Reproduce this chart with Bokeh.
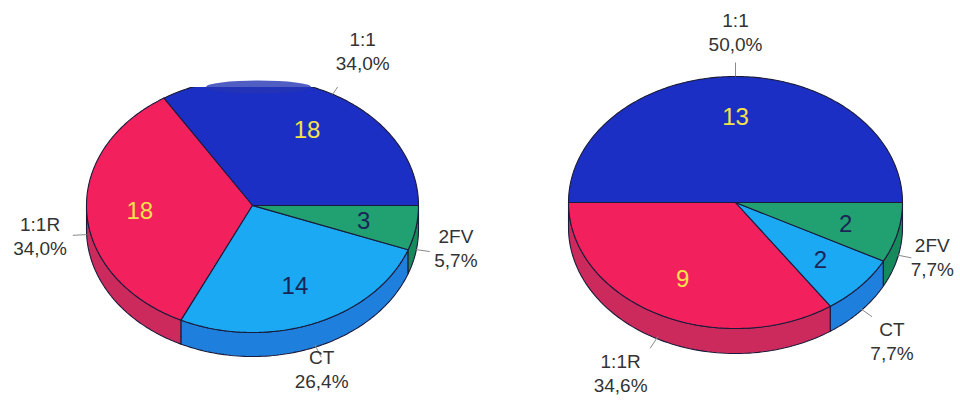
import numpy as np
from bokeh.plotting import figure
from bokeh.models import Range1d
from bokeh.embed import file_html
from bokeh.resources import INLINE
from bokeh.core.properties import value

# ---------------- data ----------------
categories = ["1:1", "1:1R", "CT", "2FV"]
left_counts = [18, 18, 14, 3]
right_counts = [13, 9, 2, 2]

# ---------------- style ----------------
top_colors = ["#1c2fc4", "#f2215d", "#1aa9f2", "#21a172"]
side_colors = ["#15239a", "#cc2a5c", "#1f7fdc", "#178a5c"]
num_colors = ["#f4e24c", "#f4e24c", "#1b2555", "#1b2555"]
FONT = value("Liberation Sans")
W, H = 960, 408

p = figure(width=W, height=H, x_range=Range1d(0, W), y_range=Range1d(0, H),
           output_backend="svg", toolbar_location=None, min_border=0)
p.axis.visible = False
p.grid.visible = False
p.outline_line_color = None
p.background_fill_color = "white"
p.border_fill_color = "white"


def Y(ypx):
    return H - ypx


# layout of each pie (pixel coords, y down) and label nudges
pies = [
    dict(counts=left_counts, cx=252, cy=205, rx=166, ry=127, depth=24,
         nudge=[(6, -9), (3, -3), (-12, -13), (-9, -10)]),
    dict(counts=right_counts, cx=735, cy=202, rx=167, ry=126, depth=25,
         nudge=[(0, -6), (-14, 1), (-6, 5), (-14, -9)]),
]

OUT = "#1a1a3a"

for pie in pies:
    counts = np.array(pie["counts"], dtype=float)
    total = counts.sum()
    fr = counts / total
    ends = np.cumsum(fr) * 2 * np.pi
    starts = ends - fr * 2 * np.pi
    cx, cy, rx, ry, d = pie["cx"], pie["cy"], pie["rx"], pie["ry"], pie["depth"]

    # --- sides (visible lower half: angles between pi and 2pi) ---
    sx, sy, sc = [], [], []
    for i in range(len(counts)):
        a0 = max(starts[i], np.pi)
        a1 = min(ends[i], 2 * np.pi)
        if a1 <= a0:
            continue
        t = np.linspace(a0, a1, 80)
        xt = cx + rx * np.cos(t)
        yt = cy - ry * np.sin(t)
        xs = np.concatenate([xt, xt[::-1]])
        ys = np.concatenate([yt, (yt + d)[::-1]])
        sx.append(list(xs))
        sy.append([Y(v) for v in ys])
        sc.append(side_colors[i])
    p.patches(sx, sy, fill_color=sc, line_color=OUT, line_width=1.1)

    # --- top faces ---
    tx, ty = [], []
    for i in range(len(counts)):
        t = np.linspace(starts[i], ends[i], 200)
        xs = np.concatenate([[cx], cx + rx * np.cos(t), [cx]])
        ys = np.concatenate([[cy], cy - ry * np.sin(t), [cy]])
        tx.append(list(xs))
        ty.append([Y(v) for v in ys])
    p.patches(tx, ty, fill_color=top_colors, line_color=OUT, line_width=1.1)

    # --- value labels inside ---
    mids = (starts + ends) / 2
    nx = cx + 0.68 * rx * np.cos(mids)
    ny = cy - 0.68 * ry * np.sin(mids)
    p.text(x=list(nx), y=[Y(v) for v in ny], text=[str(int(c)) for c in counts],
           text_color=num_colors, text_font=FONT, text_font_size="24px",
           text_align="center", text_baseline="middle")

    # --- outer labels + leader lines ---
    lx, ly, lname, lpct = [], [], [], []
    leader_x, leader_y = [], []
    for i, m in enumerate(mids):
        c, s = np.cos(m), np.sin(m)
        extra = d if s < 0 else 0
        ex = cx + rx * c
        ey = cy - ry * s + extra * 0.9
        dx, dy = c, -s * 0.8
        n = np.hypot(dx, dy)
        leader_x.append([ex, ex + 14 * dx / n])
        leader_y.append([Y(ey), Y(ey + 14 * dy / n)])
        ax = cx + 1.3 * rx * c + pie["nudge"][i][0]
        ay = cy - 1.3 * ry * s + extra + pie["nudge"][i][1]
        lx.append(ax)
        ly.append(ay)
        lname.append(categories[i])
        lpct.append(f"{100 * fr[i]:.1f}%".replace(".", ","))
    p.multi_line(leader_x, leader_y, line_color="#8a8a8a", line_width=1)
    p.text(x=lx, y=[Y(v - 12) for v in ly], text=lname, text_color="#333333",
           text_font=FONT, text_font_size="19px", text_align="center",
           text_baseline="middle")
    p.text(x=lx, y=[Y(v + 12) for v in ly], text=lpct, text_color="#333333",
           text_font=FONT, text_font_size="19px", text_align="center",
           text_baseline="middle")

# scan artifact: top of the left pie cut off with a faint bump above
p.quad(left=[160], right=[345], bottom=[Y(86.5)], top=[Y(70)],
       fill_color="white", line_color=None)
p.ellipse(x=[258], y=[Y(86.5)], width=[105], height=[13],
          fill_color="#2434b4", fill_alpha=0.8, line_color=None)

open("out.html", "w").write(file_html(p, INLINE))
